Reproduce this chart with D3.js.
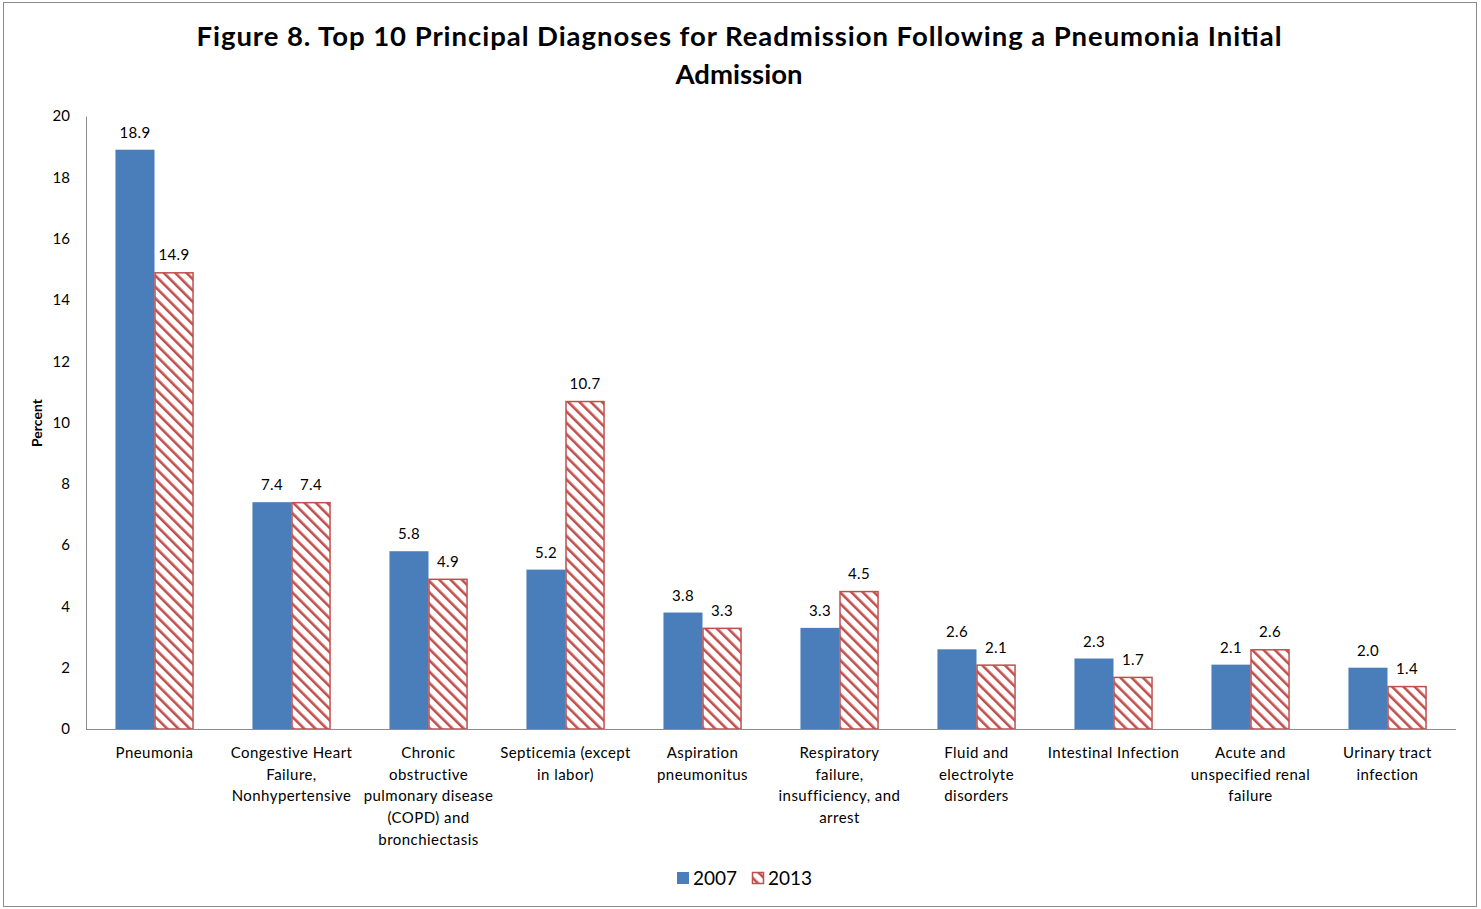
<!DOCTYPE html>
<html>
<head>
<meta charset="utf-8">
<script src="https://cdn.jsdelivr.net/npm/d3@7"></script>
<style>
  body { margin: 0; background: #fff; }
  svg { display: block; font-family: Lato, "Open Sans", sans-serif; }
</style>
</head>
<body>
<svg id="chart"></svg>
<script>
const categories = [
  ['Pneumonia'],
  ['Congestive Heart', 'Failure,', 'Nonhypertensive'],
  ['Chronic', 'obstructive', 'pulmonary disease', '(COPD) and', 'bronchiectasis'],
  ['Septicemia (except', 'in labor)'],
  ['Aspiration', 'pneumonitus'],
  ['Respiratory', 'failure,', 'insufficiency, and', 'arrest'],
  ['Fluid and', 'electrolyte', 'disorders'],
  ['Intestinal Infection'],
  ['Acute and', 'unspecified renal', 'failure'],
  ['Urinary tract', 'infection']
]
const series = ['2007', '2013']
const values2007 = [18.9, 7.4, 5.8, 5.2, 3.8, 3.3, 2.6, 2.3, 2.1, 2.0]
const values2013 = [14.9, 7.4, 4.9, 10.7, 3.3, 4.5, 2.1, 1.7, 2.6, 1.4]
const yTicks = [0, 2, 4, 6, 8, 10, 12, 14, 16, 18, 20]

const W = 1481, H = 909
const margin = {top: 116, right: 25, bottom: 180, left: 86}
const blue = '#4a7ebb', red = '#c0504d'

const svg = d3.select('#chart').attr('width', W).attr('height', H)

// diagonal hatch, lines running top-left to bottom-right
const defs = svg.append('defs')
const pat = defs.append('pattern')
  .attr('id', 'hatch')
  .attr('patternUnits', 'userSpaceOnUse')
  .attr('width', 8).attr('height', 8)
  .attr('patternTransform', 'rotate(-45)')
pat.append('rect').attr('width', 8).attr('height', 8).attr('fill', '#fff')
pat.append('rect').attr('x', 0).attr('width', 2.6).attr('height', 8).attr('fill', red)

// outer border
svg.append('rect')
  .attr('x', 3.5).attr('y', 2.5)
  .attr('width', 1473).attr('height', 904)
  .attr('fill', 'none').attr('stroke', '#8c8c8c').attr('stroke-width', 1)

// title
const title = svg.append('text')
  .attr('text-anchor', 'middle')
  .attr('font-weight', 'bold').attr('font-size', 27.5)
  .attr('fill', '#000')
title.append('tspan').attr('x', 739).attr('y', 46)
  .attr('textLength', 1085).attr('lengthAdjust', 'spacing')
  .text('Figure 8. Top 10 Principal Diagnoses for Readmission Following a Pneumonia Initial')
title.append('tspan').attr('x', 739).attr('y', 84).text('Admission')

const x = d3.scaleBand()
  .domain(d3.range(categories.length))
  .range([margin.left, margin.left + 1370])
  .paddingInner(0.43).paddingOuter(0.215)
const xs = d3.scaleBand().domain(series).range([0, x.bandwidth()])

const y = d3.scaleLinear().domain([0, 20]).range([729, 116])

// y axis
const yAxis = svg.append('g')
  .attr('transform', `translate(${margin.left},0)`)
  .call(d3.axisLeft(y).tickValues(yTicks).tickSize(0).tickPadding(16))
yAxis.select('.domain').attr('stroke', '#8c8c8c')
yAxis.selectAll('text').attr('font-size', 15).attr('fill', '#000')
  .attr('font-family', 'Lato, "Open Sans", sans-serif')

svg.append('text')
  .attr('transform', 'translate(42,423) rotate(-90)')
  .attr('text-anchor', 'middle')
  .attr('font-weight', 'bold').attr('font-size', 14)
  .text('Percent')

// bars
const rows = categories.map((c, i) => ({i, v: [values2007[i], values2013[i]]}))
const groups = svg.append('g').selectAll('g')
  .data(rows).join('g')
  .attr('transform', d => `translate(${x(d.i)},0)`)

groups.selectAll('rect')
  .data(d => series.map((s, k) => ({s, v: d.v[k]})))
  .join('rect')
  .attr('x', d => xs(d.s) + (d.s === '2013' ? 0.5 : 0))
  .attr('y', d => y(d.v) + (d.s === '2013' ? 0.5 : 0))
  .attr('width', d => xs.bandwidth() - (d.s === '2013' ? 1 : 0))
  .attr('height', d => y(0) - y(d.v) - (d.s === '2013' ? 0.5 : 0))
  .attr('fill', d => d.s === '2007' ? blue : 'url(#hatch)')
  .attr('stroke', d => d.s === '2007' ? 'none' : red)
  .attr('stroke-width', 1.5)

groups.selectAll('text.val')
  .data(d => series.map((s, k) => ({s, v: d.v[k]})))
  .join('text')
  .attr('class', 'val')
  .attr('x', d => xs(d.s) + xs.bandwidth() / 2)
  .attr('y', d => y(d.v) - 12)
  .attr('text-anchor', 'middle')
  .attr('font-size', 15)
  .attr('letter-spacing', 0.3)
  .text(d => d.v.toFixed(1))

// x axis line
svg.append('line')
  .attr('x1', margin.left).attr('x2', margin.left + 1370)
  .attr('y1', 729.5).attr('y2', 729.5)
  .attr('stroke', '#8c8c8c')

// category labels
const catText = svg.append('g').selectAll('text')
  .data(categories).join('text')
  .attr('text-anchor', 'middle')
  .attr('font-size', 15)
  .attr('letter-spacing', 0.45)
catText.selectAll('tspan')
  .data((d, i) => d.map(line => ({line, i})))
  .join('tspan')
  .attr('x', d => x(d.i) + x.bandwidth() / 2)
  .attr('y', (d, j) => 758 + j * 21.7)
  .text(d => d.line)

// legend
const legend = svg.append('g').attr('transform', 'translate(677,872)')
legend.append('rect').attr('width', 12).attr('height', 12).attr('fill', blue)
legend.append('text').attr('x', 16).attr('y', 12.5).attr('font-size', 19).text('2007')
legend.append('rect').attr('x', 75.5).attr('y', 0.5).attr('width', 11).attr('height', 11)
  .attr('fill', 'url(#hatch)').attr('stroke', red).attr('stroke-width', 1.5)
legend.append('text').attr('x', 91).attr('y', 12.5).attr('font-size', 19).text('2013')
</script>
</body>
</html>
